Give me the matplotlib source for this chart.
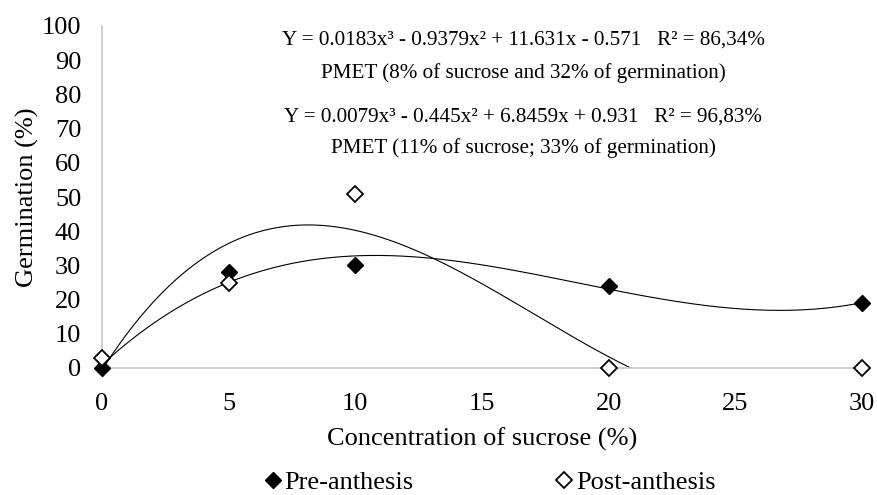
import numpy as np
import matplotlib.pyplot as plt

plt.rcParams['font.family'] = ['Liberation Serif', 'DejaVu Serif']

# data
sucrose = [0, 5, 10, 20, 30]
pre_anthesis = [0, 28, 30, 24, 19]
post_anthesis = [3, 25, 51, 0, 0]

# trendline coefficients (cubic) from the equations printed on the chart
coef_post = [0.0183, -0.9379, 11.631, -0.571]
coef_pre = [0.0079, -0.445, 6.8459, 0.931]

eq_lines = [
    'Y = 0.0183x³ - 0.9379x² + 11.631x - 0.571   R² = 86,34%',
    'PMET (8% of sucrose and 32% of germination)',
    'Y = 0.0079x³ - 0.445x² + 6.8459x + 0.931   R² = 96,83%',
    'PMET (11% of sucrose; 33% of germination)',
]
eq_y = [40, 73, 117, 148]  # pixel rows of the annotation lines

W, H = 877, 495
fig = plt.figure(figsize=(W / 100, H / 100), dpi=100)
ax = fig.add_axes([102 / W, 1 - 368 / H, 760 / W, 342 / H])

xs = np.linspace(0, 30, 400)
ax.plot(xs, np.polyval(coef_post, xs), color='black', lw=0.8, zorder=2)
ax.plot(xs, np.polyval(coef_pre, xs), color='black', lw=0.8, zorder=2)

ax.plot(sucrose, pre_anthesis, linestyle='none', marker='D', ms=8.5,
        mfc='black', mec='black', label='Pre-anthesis', zorder=3, clip_on=False)
ax.plot(sucrose, post_anthesis, linestyle='none', marker='D', ms=8.5,
        mfc='white', mec='black', mew=1.3, label='Post-anthesis', zorder=3, clip_on=False)

ax.set_xlim(0, 30)
ax.set_ylim(0, 100)
ax.set_xticks([0, 5, 10, 15, 20, 25, 30])
ax.set_yticks(range(0, 101, 10))
ax.tick_params(length=0, labelsize=19)
ax.tick_params(axis='x', pad=18)
ax.tick_params(axis='y', pad=15)
for s in ['top', 'right']:
    ax.spines[s].set_visible(False)
for s in ['left', 'bottom']:
    ax.spines[s].set_color('#c8c8c8')
    ax.spines[s].set_linewidth(1.2)

ax.set_xlabel('Concentration of sucrose (%)', fontsize=19, labelpad=9)
ax.set_ylabel('Germination (%)', fontsize=19, labelpad=2)

for txt, yp in zip(eq_lines, eq_y):
    fig.text(523 / W, 1 - yp / H, txt, ha='center', va='center', fontsize=15.2)

fig.legend(loc='center', bbox_to_anchor=(490 / W, 1 - 482 / H), ncol=2, frameon=False,
           fontsize=19, handlelength=0.6, handletextpad=0.15, columnspacing=5.4,
           borderpad=0, borderaxespad=0)

fig.savefig('out.png', dpi=100)
